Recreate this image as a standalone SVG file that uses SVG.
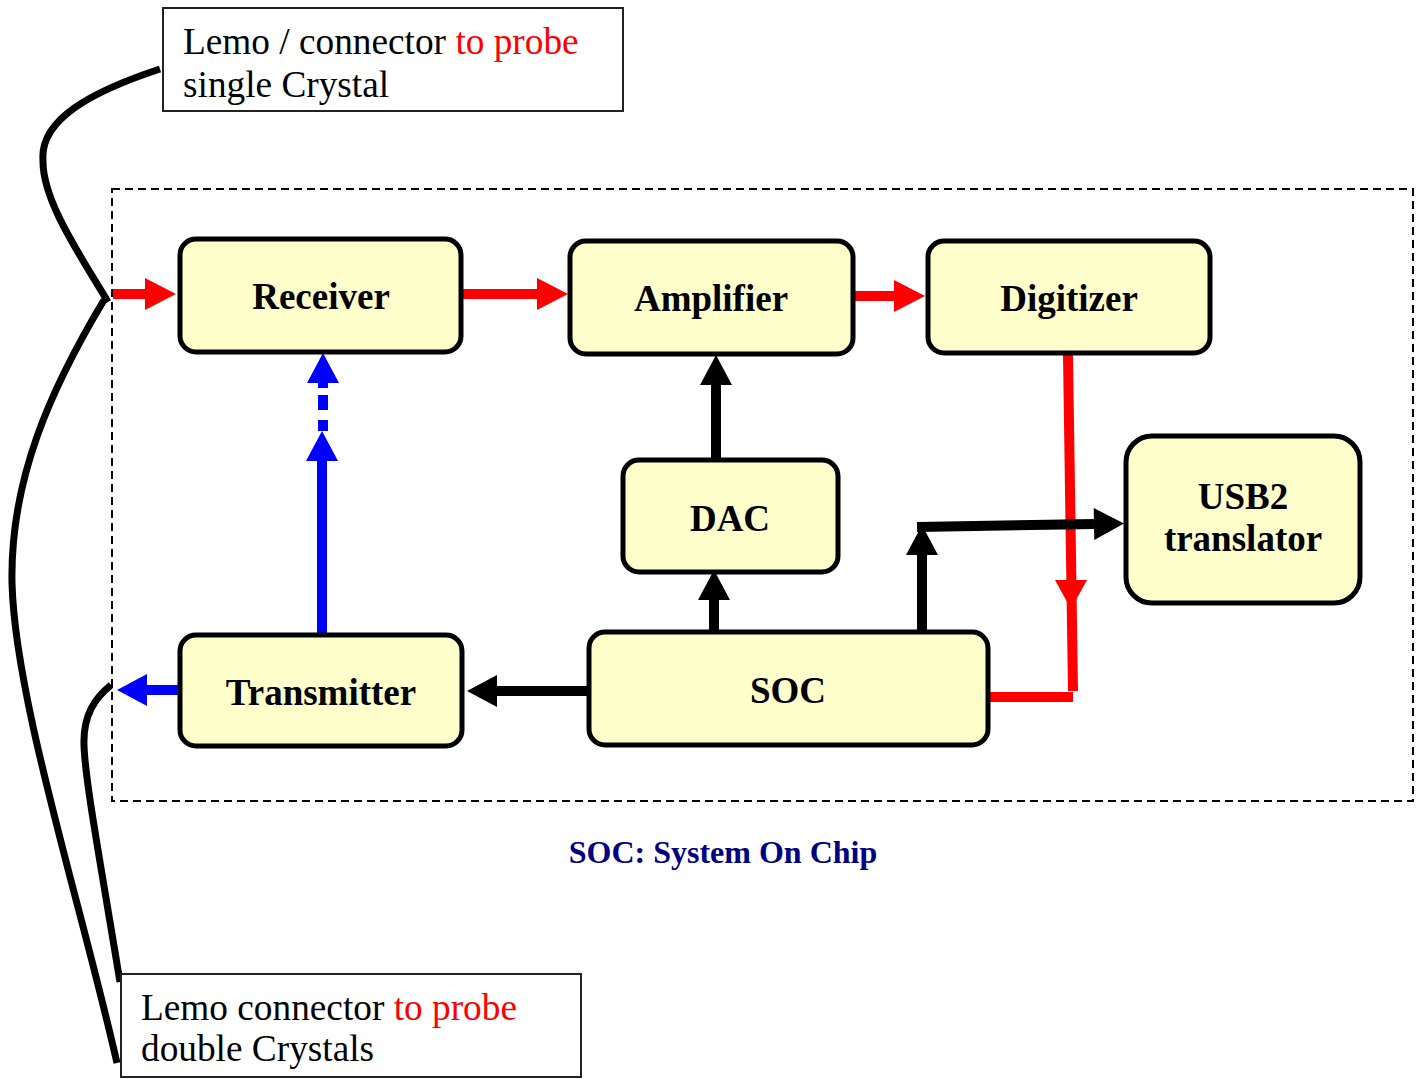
<svg xmlns="http://www.w3.org/2000/svg" width="1423" height="1079" viewBox="0 0 1423 1079">
  <style>
    .block { fill: #FFFFCC; stroke: #000; stroke-width: 5; }
    .label { font-family: "Liberation Serif", "Times New Roman", serif; font-weight: bold; font-size: 37px; fill: #000; text-anchor: middle; }
    .note-box { fill: #fff; stroke: #222; stroke-width: 2; }
    .note { font-family: "Liberation Serif", "Times New Roman", serif; font-size: 37.3px; fill: #000; }
    .red-txt { fill: #FF0000; }
    .cable { fill: none; stroke: #000; stroke-width: 7; }
    .sig-red { fill: none; stroke: #FF0000; stroke-width: 10; }
    .sig-blue { fill: none; stroke: #0000FF; stroke-width: 10; }
    .sig-black { fill: none; stroke: #000; stroke-width: 10; }
  </style>
  <defs>
    <marker id="head-red" markerUnits="userSpaceOnUse" viewBox="0 -20 40 40" markerWidth="40" markerHeight="40" refX="0" refY="0" orient="auto" overflow="visible">
      <path d="M0,-16 L31,0 L0,16 Z" fill="#FF0000"/>
    </marker>
    <marker id="head-blue" markerUnits="userSpaceOnUse" viewBox="0 -20 40 40" markerWidth="40" markerHeight="40" refX="0" refY="0" orient="auto" overflow="visible">
      <path d="M0,-16 L30,0 L0,16 Z" fill="#0000FF"/>
    </marker>
    <marker id="head-black" markerUnits="userSpaceOnUse" viewBox="0 -20 40 40" markerWidth="40" markerHeight="40" refX="0" refY="0" orient="auto" overflow="visible">
      <path d="M0,-16 L30,0 L0,16 Z" fill="#000"/>
    </marker>
  </defs>

  <rect width="1423" height="1079" fill="#fff"/>

  <!-- chip boundary -->
  <rect id="soc-boundary" x="112" y="189" width="1301" height="612" fill="none" stroke="#000" stroke-width="2" stroke-dasharray="8 5"/>

  <!-- probe cables -->
  <g id="cables">
    <path class="cable" d="M160,69 C 90,92 40,120 43,160 C 42,200 80,255 108,302"/>
    <path class="cable" d="M104,300 C 50,390 10,480 12,583 C 15,700 80,900 117,1063"/>
    <path class="cable" d="M120,982 C 100,860 85,780 84,745 C 83,715 95,698 111,685"/>
  </g>

  <!-- signal paths -->
  <g id="connectors">
    <path class="sig-red" d="M113,294 L145,294" marker-end="url(#head-red)"/>
    <path class="sig-red" d="M462,294 L537,294" marker-end="url(#head-red)"/>
    <path class="sig-red" d="M855,296 L894,296" marker-end="url(#head-red)"/>
    <path class="sig-red" d="M1068,355 L1073,691"/>
    <path d="M1055,580 L1087,580 L1071,609 Z" fill="#FF0000"/>
    <path class="sig-red" d="M988,697 L1073,697"/>

    <path class="sig-blue" d="M322,633 L322,461" marker-end="url(#head-blue)"/>
    <path class="sig-blue" d="M323,431 L323,383" stroke-width="11" stroke-dasharray="11 10 15 7 8" marker-end="url(#head-blue)"/>
    <path class="sig-blue" d="M180,690 L147,690" marker-end="url(#head-blue)"/>

    <path class="sig-black" d="M588,691 L497,691" marker-end="url(#head-black)"/>
    <path class="sig-black" d="M714,632 L714,600" marker-end="url(#head-black)"/>
    <path class="sig-black" d="M716,460 L716,385" marker-end="url(#head-black)"/>
    <path class="sig-black" d="M922,632 L922,555" marker-end="url(#head-black)"/>
    <path class="sig-black" d="M917,527 L1094,524" marker-end="url(#head-black)"/>
  </g>

  <g id="receiver">
    <rect class="block" x="180" y="239" width="281" height="113" rx="16"/>
    <text class="label" x="321" y="309">Receiver</text>
  </g>
  <g id="amplifier">
    <rect class="block" x="570" y="241" width="283" height="113" rx="16"/>
    <text class="label" x="711" y="311">Amplifier</text>
  </g>
  <g id="digitizer">
    <rect class="block" x="928" y="241" width="282" height="112" rx="16"/>
    <text class="label" x="1069" y="311">Digitizer</text>
  </g>
  <g id="dac">
    <rect class="block" x="623" y="460" width="215" height="112" rx="16"/>
    <text class="label" x="730" y="531">DAC</text>
  </g>
  <g id="usb2">
    <rect class="block" x="1126" y="436" width="234" height="167" rx="26"/>
    <text class="label" x="1243" y="509">USB2</text>
    <text class="label" x="1243" y="551">translator</text>
  </g>
  <g id="transmitter">
    <rect class="block" x="180" y="635" width="282" height="111" rx="16"/>
    <text class="label" x="321" y="705">Transmitter</text>
  </g>
  <g id="soc">
    <rect class="block" x="589" y="632" width="399" height="113" rx="16"/>
    <text class="label" x="788" y="703">SOC</text>
  </g>

  <g id="soc-caption">
    <text x="723" y="863" font-family="'Liberation Serif', 'Times New Roman', serif" font-weight="bold" font-size="32" fill="#000080" text-anchor="middle">SOC: System On Chip</text>
  </g>

  <g id="lemo-single">
    <rect class="note-box" x="163" y="8" width="460" height="103"/>
    <text class="note" x="183" y="54">Lemo / connector <tspan class="red-txt">to probe</tspan></text>
    <text class="note" x="183" y="97">single Crystal</text>
  </g>
  <g id="lemo-double">
    <rect class="note-box" x="121" y="974" width="460" height="103"/>
    <text class="note" x="141" y="1020">Lemo connector <tspan class="red-txt">to probe</tspan></text>
    <text class="note" x="141" y="1061">double Crystals</text>
  </g>
</svg>
